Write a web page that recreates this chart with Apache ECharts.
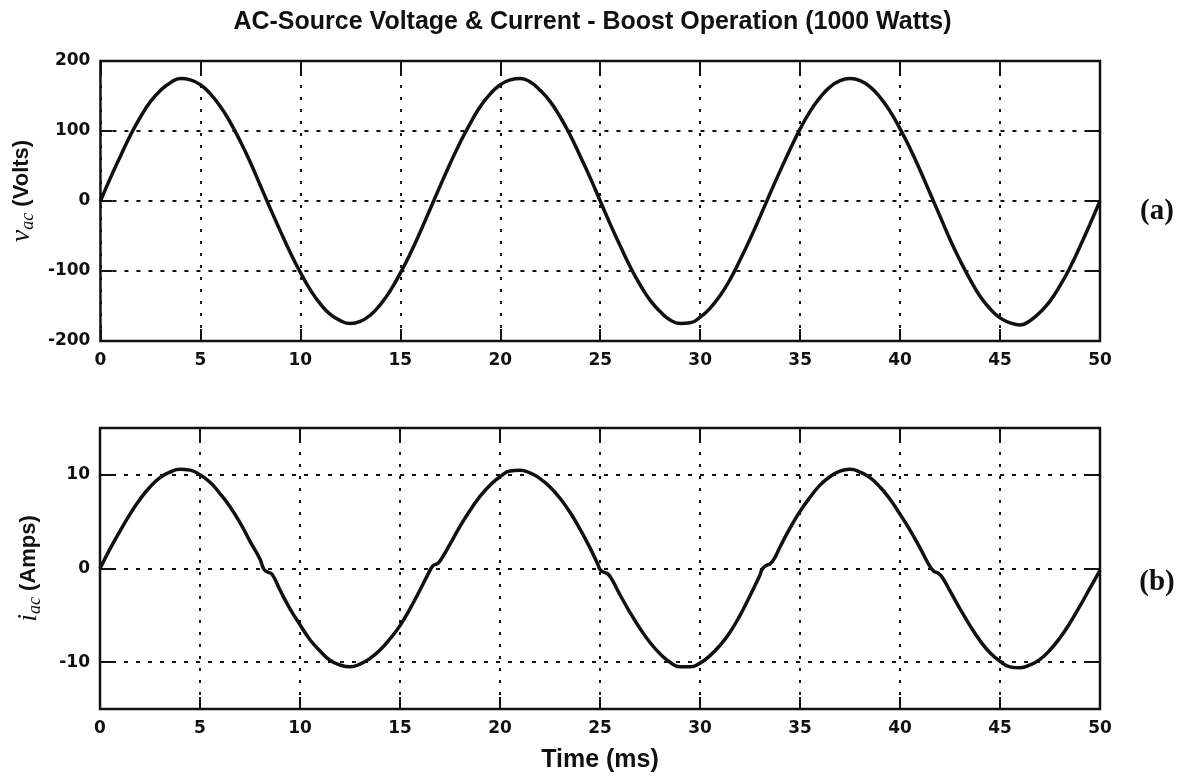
<!DOCTYPE html>
<html>
<head>
<meta charset="utf-8">
<title>AC-Source Voltage & Current - Boost Operation</title>
<script src="https://cdn.jsdelivr.net/npm/echarts@6/dist/echarts.min.js"></script>
<style>
  html, body { margin: 0; padding: 0; background: #fff; }
  #chart { width: 1185px; height: 782px; }
</style>
</head>
<body>
<div id="chart"></div>
<script>
// Source voltage samples (ms, V)
const timeMs = [
  0, 0.5, 1, 1.5, 2, 2.5, 3, 3.5, 4, 4.5, 5, 5.5, 6, 6.5, 7, 7.5, 8, 8.5, 9, 9.5,
  10, 10.5, 11, 11.5, 12, 12.5, 13, 13.5, 14, 14.5, 15, 15.5, 16, 16.5, 17, 17.5, 18, 18.5, 19, 19.5,
  20, 20.5, 21, 21.5, 22, 22.5, 23, 23.5, 24, 24.5, 25, 25.5, 26, 26.5, 27, 27.5, 28, 28.5, 29, 29.5,
  30, 30.5, 31, 31.5, 32, 32.5, 33, 33.5, 34, 34.5, 35, 35.5, 36, 36.5, 37, 37.5, 38, 38.5, 39, 39.5,
  40, 40.5, 41, 41.5, 42, 42.5, 43, 43.5, 44, 44.5, 45, 45.5, 46, 46.5, 47, 47.5, 48, 48.5, 49, 49.5,
  50
];
const voltage = [
  0, 33, 64, 94, 120, 142, 158, 169, 175, 173, 166, 153, 135, 112, 85, 55, 22, -11, -43, -74,
  -102, -127, -147, -162, -171, -175, -172, -163, -148, -128, -103, -75, -44, -11, 22, 54, 84, 111, 135, 153,
  166, 173, 175, 170, 158, 142, 120, 94, 64, 33, 0, -33, -64, -94, -120, -142, -158, -170, -175, -174,
  -166, -153, -135, -112, -84, -54, -22, 11, 43, 74, 103, 128, 148, 163, 172, 175, 172, 163, 148, 128,
  103, 75, 44, 11, -22, -55, -85, -112, -136, -154, -167, -174, -177, -171, -159, -143, -121, -95, -65, -33,
  0
];

// Source current samples (ms, A); denser points around the zero-crossing notches
const currentTimeMs = [
  0, 0.5, 1, 1.5, 2, 2.5, 3, 3.5, 4, 4.5, 5, 5.5, 6, 6.5, 7, 7.5, 8, 8.2, 8.4, 8.6,
  9, 9.5, 10, 10.5, 11, 11.5, 12, 12.5, 13, 13.5, 14, 14.5, 15, 15.5, 16, 16.5, 16.65, 16.85, 17, 17.5,
  18, 18.5, 19, 19.5, 20, 20.5, 21, 21.5, 22, 22.5, 23, 23.5, 24, 24.5, 24.9, 25, 25.2, 25.4, 25.6, 26,
  26.5, 27, 27.5, 28, 28.5, 29, 29.5, 30, 30.5, 31, 31.5, 32, 32.5, 33, 33.1, 33.3, 33.5, 33.7, 34, 34.5,
  35, 35.5, 36, 36.5, 37, 37.5, 38, 38.5, 39, 39.5, 40, 40.5, 41, 41.5, 41.7, 41.9, 42.1, 42.5, 43, 43.5,
  44, 44.5, 45, 45.5, 46, 46.5, 47, 47.5, 48, 48.5, 49, 49.5, 50
];
const current = [
  0, 2.1, 4.0, 5.8, 7.4, 8.7, 9.7, 10.3, 10.6, 10.5, 10.0, 9.2, 8.0, 6.6, 4.9, 2.9, 1.0, -0.1, -0.4, -0.6,
  -2.3, -4.3, -6.0, -7.6, -8.8, -9.8, -10.3, -10.5, -10.2, -9.6, -8.7, -7.5, -6.1, -4.3, -2.3, -0.2, 0.3, 0.5, 0.8, 2.6,
  4.5, 6.2, 7.7, 8.9, 9.8, 10.4, 10.5, 10.2, 9.6, 8.7, 7.5, 6.0, 4.2, 2.2, 0.4, -0.1, -0.4, -0.6, -1.2, -2.8,
  -4.7, -6.4, -7.9, -9.1, -10.0, -10.5, -10.5, -10.1, -9.3, -8.2, -6.8, -5.0, -2.9, -0.7, -0.1, 0.3, 0.5, 1.0, 2.3, 4.3,
  6.1, 7.6, 8.9, 9.8, 10.4, 10.6, 10.3, 9.7, 8.7, 7.4, 5.8, 4.1, 2.2, 0.2, -0.3, -0.5, -0.9, -2.4, -4.3, -6.1,
  -7.7, -9.0, -9.9, -10.5, -10.6, -10.3, -9.7, -8.7, -7.4, -5.8, -4.0, -2.1, -0.2
];

const timeTicks = { min: 0, max: 50, interval: 5 };
const voltageTicks = { min: -200, max: 200, interval: 100 };
const currentRange = { min: -15, max: 15 };
const currentTickValues = [-10, 0, 10];

const titleText = 'AC-Source Voltage & Current - Boost Operation (1000 Watts)';
const xAxisTitle = 'Time (ms)';
const panelTags = ['(a)', '(b)'];

const SANS = '"Liberation Sans", Arial, Helvetica, sans-serif';
const DIGITS = '"DejaVu Sans", "Liberation Sans", sans-serif';
const SERIF = '"Liberation Serif", "Times New Roman", serif';
const INK = '#111';

const dotted = (dash) => ({ show: true, lineStyle: { color: INK, width: 2, type: dash } });
const tickStyle = { show: true, inside: true, length: 12, lineStyle: { color: INK, width: 2 } };
const labelStyle = { color: INK, fontFamily: DIGITS, fontWeight: 'bold', fontSize: 17 };
const noLine = { show: false, onZero: false };

function bottomX(gridIndex, withName) {
  return Object.assign({
    type: 'value', gridIndex, position: 'bottom',
    axisLine: noLine,
    axisTick: tickStyle,
    axisLabel: Object.assign({ margin: 11 }, labelStyle),
    splitLine: dotted([3, 9])
  }, timeTicks, withName ? {
    name: xAxisTitle, nameLocation: 'middle', nameGap: 39,
    nameTextStyle: { color: INK, fontFamily: SANS, fontWeight: 'bold', fontSize: 25 }
  } : {});
}
function topX(gridIndex) {
  return Object.assign({
    type: 'value', gridIndex, position: 'top',
    axisLine: noLine, axisTick: tickStyle,
    axisLabel: { show: false }, splitLine: { show: false }
  }, timeTicks);
}
function yName(sym, unit, shift) {
  return {
    name: '{v|' + sym + '}{s|ac}{t| (' + unit + ')}',
    nameLocation: 'middle', nameRotate: 90, nameGap: 56,
    nameTextStyle: {
      padding: [0, 0, 0, shift],
      rich: {
        v: { fontFamily: SERIF, fontStyle: 'italic', fontSize: 28, color: INK },
        s: { fontFamily: SERIF, fontStyle: 'italic', fontSize: 18, color: INK, padding: [12, 0, 0, 0] },
        t: { fontFamily: SANS, fontWeight: 'bold', fontSize: 22, color: INK }
      }
    }
  };
}

const option = {
  backgroundColor: '#fff',
  animation: false,
  title: {
    text: titleText, left: 'center', top: 5,
    textStyle: { color: INK, fontFamily: SANS, fontWeight: 'bold', fontSize: 25 }
  },
  grid: [
    { left: 100, top: 61, width: 1000, height: 280, show: true, borderColor: INK, borderWidth: 2.5, backgroundColor: '#fff' },
    { left: 100, top: 428, width: 1000, height: 281, show: true, borderColor: INK, borderWidth: 2.5, backgroundColor: '#fff' }
  ],
  xAxis: [bottomX(0, false), topX(0), bottomX(1, true), topX(1)],
  yAxis: [
    Object.assign({
      type: 'value', gridIndex: 0, position: 'left',
      axisLine: noLine, axisTick: tickStyle,
      axisLabel: Object.assign({ margin: 10 }, labelStyle),
      splitLine: dotted([4, 8])
    }, voltageTicks, yName('v', 'Volts', 20)),
    Object.assign({
      type: 'value', gridIndex: 0, position: 'right',
      axisLine: noLine, axisTick: tickStyle,
      axisLabel: { show: false }, splitLine: { show: false }
    }, voltageTicks),
    Object.assign({
      type: 'value', gridIndex: 1, position: 'left',
      axisLine: noLine,
      axisTick: Object.assign({ customValues: currentTickValues }, tickStyle),
      axisLabel: Object.assign({ margin: 10, customValues: currentTickValues }, labelStyle),
      splitLine: dotted([4, 8])
    }, currentRange, yName('i', 'Amps', 0)),
    Object.assign({
      type: 'value', gridIndex: 1, position: 'right',
      axisLine: noLine,
      axisTick: Object.assign({ customValues: currentTickValues }, tickStyle),
      axisLabel: { show: false }, splitLine: { show: false }
    }, currentRange)
  ],
  graphic: [
    { type: 'text', x: 1157, y: 212, style: { text: panelTags[0], fill: INK, font: 'bold 29px ' + SERIF, align: 'center', verticalAlign: 'middle' } },
    { type: 'text', x: 1157, y: 583, style: { text: panelTags[1], fill: INK, font: 'bold 29px ' + SERIF, align: 'center', verticalAlign: 'middle' } }
  ],
  series: [
    {
      name: 'vac', type: 'line', xAxisIndex: 0, yAxisIndex: 0,
      data: timeMs.map((t, i) => [t, voltage[i]]),
      showSymbol: false, smooth: 0.5, clip: true,
      lineStyle: { color: INK, width: 3.5 }
    },
    {
      name: 'iac', type: 'line', xAxisIndex: 2, yAxisIndex: 2,
      data: currentTimeMs.map((t, i) => [t, current[i]]),
      showSymbol: false, smooth: 0.5, clip: true,
      lineStyle: { color: INK, width: 3.5 }
    }
  ]
};

const chart = echarts.init(document.getElementById('chart'), null, { renderer: 'canvas' });
chart.setOption(option);
</script>
</body>
</html>
